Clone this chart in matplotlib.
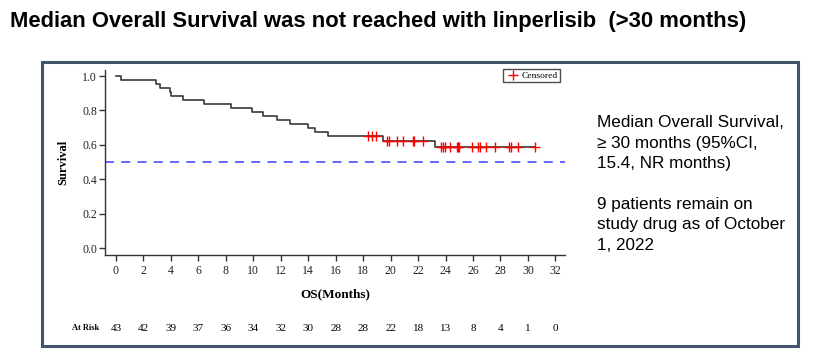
import numpy as np
import matplotlib.pyplot as plt
from matplotlib.patches import Rectangle
from matplotlib.lines import Line2D

# Kaplan-Meier steps (time in months, survival after the step)
step_times = [0.0, 0.37, 2.93, 3.22, 3.9, 4.0, 4.88, 6.44, 8.41, 9.88, 10.73,
              11.76, 12.68, 13.95, 14.48, 15.41, 19.43, 23.21]
step_surv = [1.0, 0.977, 0.953, 0.930, 0.907, 0.884, 0.860, 0.837, 0.814, 0.791,
             0.767, 0.744, 0.721, 0.698, 0.674, 0.651, 0.625, 0.590]
last_time = 30.5

# censored patients
censor_times = [18.35, 18.65, 18.95, 19.75, 19.85, 20.45, 20.9, 21.6, 21.7, 22.35,
                23.65, 23.8, 23.95, 24.35, 24.8, 24.9, 24.98, 25.95, 26.35, 26.5,
                26.95, 27.6, 28.6, 28.75, 29.3, 30.5]

risk_times = list(range(0, 33, 2))
at_risk = [43, 42, 39, 37, 36, 34, 32, 30, 28, 28, 22, 18, 13, 8, 4, 1, 0]

title = "Median Overall Survival was not reached with linperlisib  (>30 months)"
side_lines = ["Median Overall Survival,", "\u2265 30 months (95%CI,", "15.4, NR months)",
              "", "9 patients remain on", "study drug as of October", "1, 2022"]

W, H = 816, 361
fig = plt.figure(figsize=(W / 100, H / 100), dpi=100)

# outer frame
fig.patches.append(Rectangle((42 / W, 1 - 346 / H), (798 - 42) / W, (346 - 62) / H,
                             transform=fig.transFigure, fill=False,
                             edgecolor="#44546a", linewidth=2.2))

fig.text(10 / W, 1 - 21 / H, title, fontsize=15.8, fontweight="bold",
         family="Liberation Sans", va="center", ha="left")

for i, line in enumerate(side_lines):
    if line:
        fig.text(597 / W, 1 - (122.7 + 20.4 * i) / H, line, fontsize=12.3,
                 family="Liberation Sans", va="center", ha="left")

ax = fig.add_axes([105 / W, 1 - 255 / H, (565 - 105) / W, (255 - 70) / H])
serif = "Liberation Serif"

# KM step line
xs = step_times + [last_time]
ys = step_surv + [step_surv[-1]]
ax.step(xs, ys, where="post", color="#3a3a3a", linewidth=1.2, zorder=3)

# censor marks on the curve
idx = np.searchsorted(step_times, censor_times, side="right") - 1
censor_surv = [step_surv[i] for i in idx]
ax.plot(censor_times, censor_surv, linestyle="none", marker="+", color="red",
        markersize=7, markeredgewidth=1.0, zorder=4)

# median line
ax.axhline(0.5, color="#5a5aff", linestyle=(0, (5, 4)), linewidth=1.3, zorder=2)

ax.set_xlim(-0.8, 32.7)
ax.set_ylim(-0.039, 1.035)
ax.set_xticks(risk_times)
ax.set_yticks([0.0, 0.2, 0.4, 0.6, 0.8, 1.0])
ax.set_yticklabels(["0.0", "0.2", "0.4", "0.6", "0.8", "1.0"])
for s in ["top", "right"]:
    ax.spines[s].set_visible(False)
for s in ["left", "bottom"]:
    ax.spines[s].set_color("#333333")
    ax.spines[s].set_linewidth(1.0)
ax.tick_params(length=4.3, width=1, color="#333333", labelsize=8.5)
ax.tick_params(axis="y", pad=1.5)
ax.tick_params(axis="x", pad=3)
for lab in ax.get_xticklabels() + ax.get_yticklabels():
    lab.set_family(serif)
    lab.set_color("#222222")

ax.set_ylabel("Survival", family=serif, fontweight="bold", fontsize=9, labelpad=9)
ax.set_xlabel("OS(Months)", family=serif, fontweight="bold", fontsize=9.5, labelpad=8)

# at-risk row
tr = ax.get_xaxis_transform()
ax.text(-1.2, -0.395, "At Risk", transform=tr, family=serif, fontweight="bold",
        fontsize=6, ha="right", va="center")
for t, n in zip(risk_times, at_risk):
    ax.text(t, -0.395, str(n), transform=tr, family=serif, fontsize=8,
            ha="center", va="center", clip_on=False)

handle = Line2D([], [], linestyle="none", marker="+", color="red",
                markersize=7, markeredgewidth=1.0)
leg = ax.legend([handle], ["Censored"], loc="upper right",
                bbox_to_anchor=(0.99, 1.005), prop={"family": serif, "size": 6.8},
                frameon=True, fancybox=False, edgecolor="#222222",
                handletextpad=0.2, borderpad=0.25, handlelength=1.5,
                borderaxespad=0.0)
leg.get_frame().set_linewidth(1.0)

fig.savefig("out.png", dpi=100)
